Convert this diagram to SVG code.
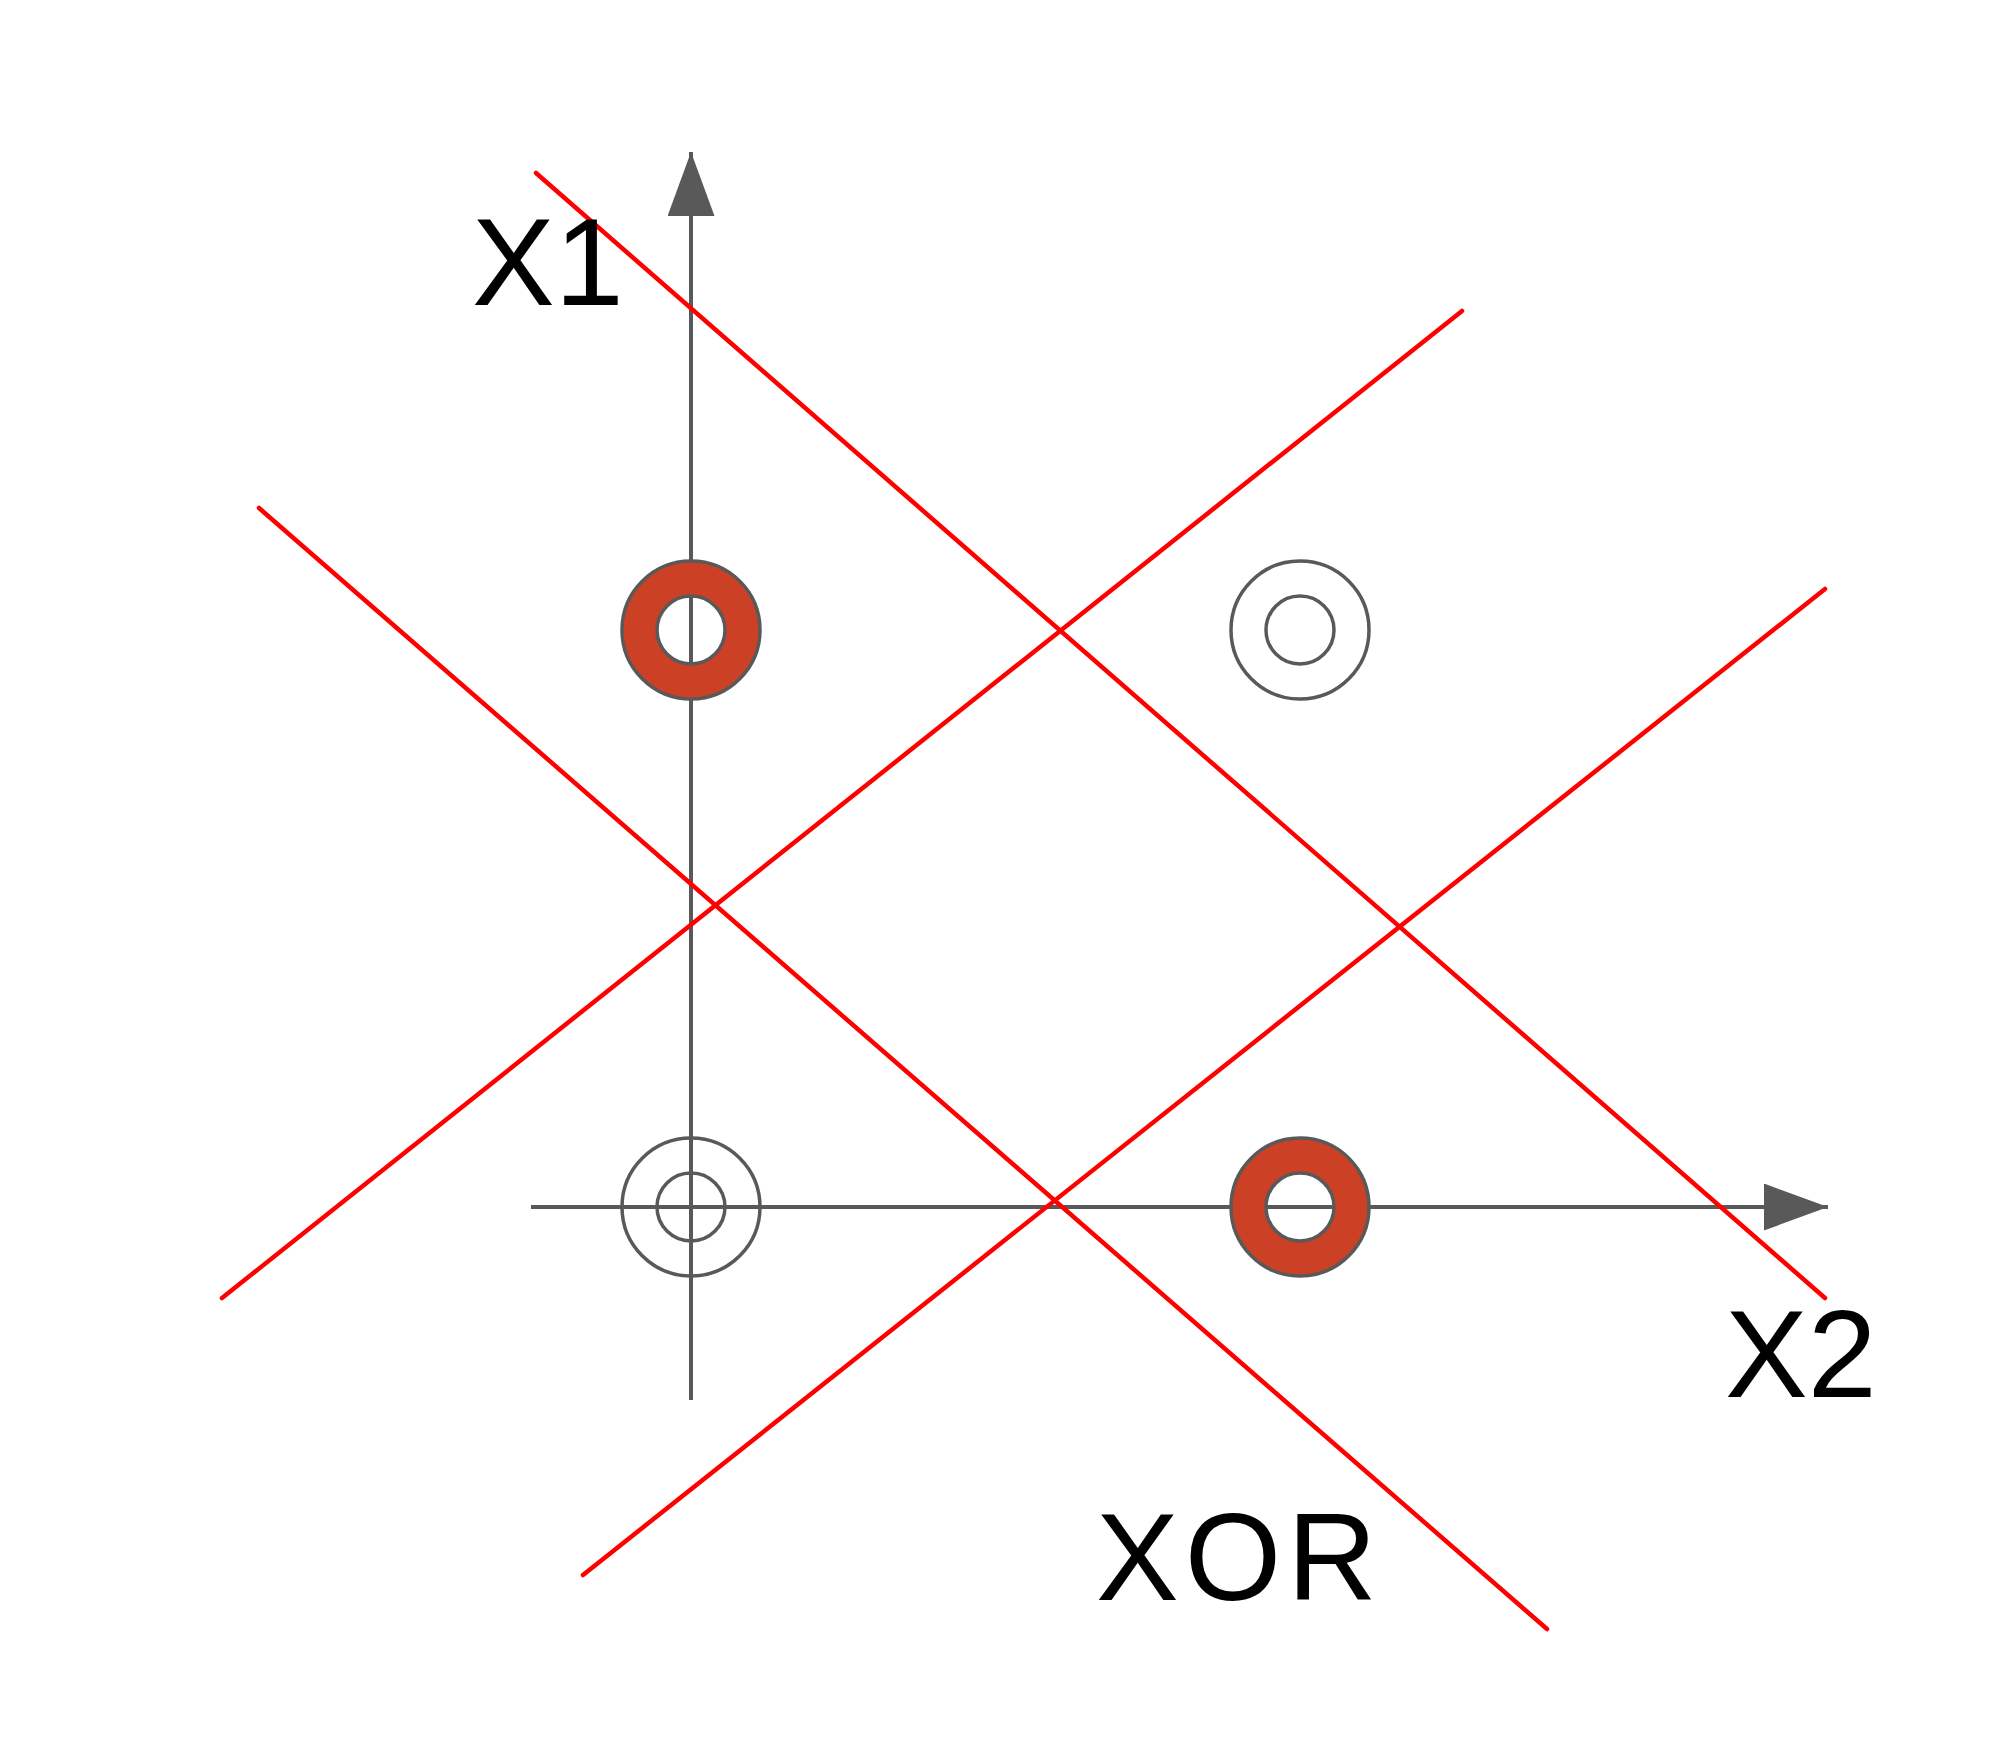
<svg xmlns="http://www.w3.org/2000/svg" width="2000" height="1740" viewBox="0 0 2000 1740">
<style>
.axis{stroke:#595959;stroke-width:4;fill:none}
.sep{stroke:#ff0000;stroke-width:4.5;fill:none;stroke-linecap:round}
.ring{fill:none;stroke:#cc4125;stroke-width:34}
.edge{fill:none;stroke:#595959;stroke-width:3.5}
.lbl{font-family:"Liberation Sans",Arial,sans-serif;font-size:124px;fill:#000}
</style>
<defs>
<marker id="arr" markerUnits="userSpaceOnUse" markerWidth="66" markerHeight="48" refX="64" refY="23.5" orient="auto">
<path d="M0,0 L64,23.5 L0,47 z" fill="#595959"/>
</marker>
</defs>
<rect width="2000" height="1740" fill="#fff"/>
<g id="axes">
<line class="axis" x1="691" y1="1400" x2="691" y2="152" marker-end="url(#arr)"/>
<line class="axis" x1="531" y1="1207" x2="1828" y2="1207" marker-end="url(#arr)"/>
</g>
<g id="p01">
<circle class="ring" cx="691" cy="630" r="51.5"/>
<circle class="edge" cx="691" cy="630" r="69"/>
<circle class="edge" cx="691" cy="630" r="34"/>
</g>
<g id="p11">
<circle class="edge" cx="1300" cy="630" r="69"/>
<circle class="edge" cx="1300" cy="630" r="34"/>
</g>
<g id="p00">
<circle class="edge" cx="691" cy="1207" r="69"/>
<circle class="edge" cx="691" cy="1207" r="34"/>
</g>
<g id="p10">
<circle class="ring" cx="1300" cy="1207" r="51.5"/>
<circle class="edge" cx="1300" cy="1207" r="69"/>
<circle class="edge" cx="1300" cy="1207" r="34"/>
</g>
<g id="separators">
<line class="sep" x1="536" y1="173" x2="1825" y2="1298"/>
<line class="sep" x1="259" y1="508" x2="1547" y2="1629"/>
<line class="sep" x1="222" y1="1298" x2="1462" y2="311"/>
<line class="sep" x1="583" y1="1575" x2="1825" y2="589"/>
</g>
<g id="labels">
<text class="lbl" x="472" y="305">X1</text>
<text class="lbl" x="1725" y="1397">X2</text>
<text class="lbl" x="1096" y="1600" letter-spacing="6">XOR</text>
</g>
</svg>
